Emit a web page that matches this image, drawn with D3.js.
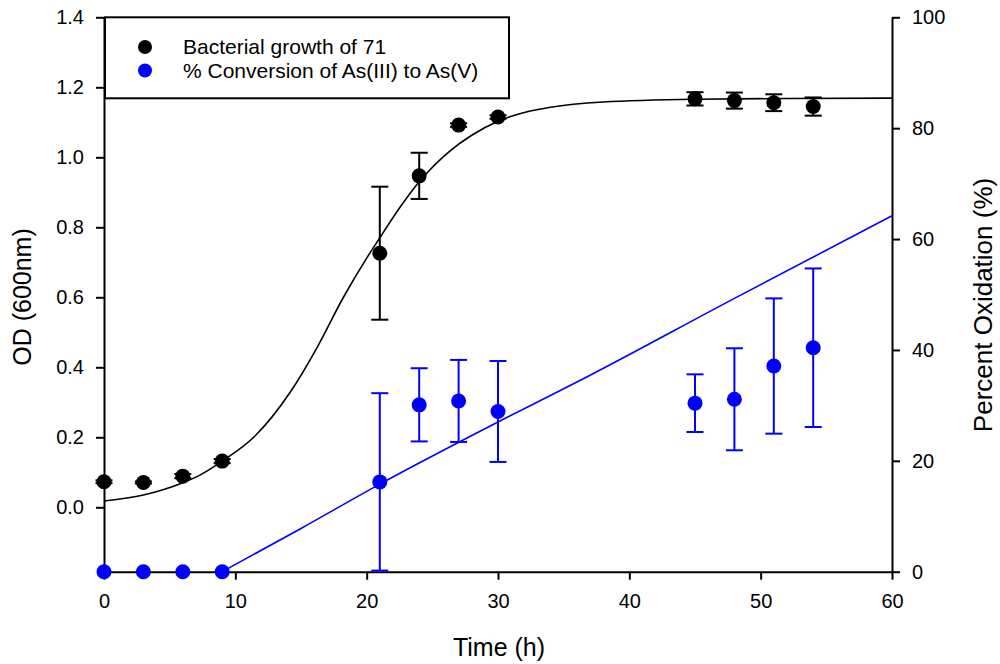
<!DOCTYPE html>
<html>
<head>
<meta charset="utf-8">
<script src="https://cdn.jsdelivr.net/npm/d3@7"></script>
<style>
  html, body { margin: 0; padding: 0; background: #fff; }
  svg { display: block; font-family: "Liberation Sans", Arial, sans-serif; }
</style>
</head>
<body>
<svg id="chart" width="1000" height="664"></svg>
<script>
// measured data
const growthTime = [0, 3, 6, 9, 21, 24, 27, 30, 45, 48, 51, 54];
const growthOD = [0.073, 0.071, 0.089, 0.132, 0.726, 0.947, 1.092, 1.115, 1.167, 1.162, 1.156, 1.145];
const growthErr = [0.004, 0.003, 0.006, 0.006, 0.19, 0.066, 0.005, 0.005, 0.019, 0.023, 0.024, 0.026];

const convTime = [0, 3, 6, 9, 21, 24, 27, 30, 45, 48, 51, 54];
const convPct = [0, 0, 0, 0, 16.2, 30.1, 30.8, 28.9, 30.4, 31.1, 37.1, 40.4];
const convErr = [0, 0, 0, 0, 16, 6.6, 7.4, 9.1, 5.2, 9.2, 12.2, 14.3];

// fitted curves
const growthFitTime = [0, 3, 6, 7.3, 9, 11.4, 14.2, 16.2, 18.2, 20, 21, 22.5, 24, 26.4, 28, 30, 32, 34, 38, 45, 52, 60];
const growthFitOD = [0.018, 0.035, 0.07, 0.092, 0.132, 0.2, 0.33, 0.455, 0.598, 0.712, 0.77, 0.855, 0.93, 1.02, 1.063, 1.103, 1.128, 1.143, 1.158, 1.166, 1.168, 1.169];
const convFitTime = [9, 15, 21, 30, 36.5, 48, 60];
const convFitPct = [0, 7.8, 15.8, 27.0, 34.8, 49.3, 64.2];

const xTicks = [0, 10, 20, 30, 40, 50, 60];
const leftTicks = [0, 0.2, 0.4, 0.6, 0.8, 1.0, 1.2, 1.4];
const rightTicks = [0, 20, 40, 60, 80, 100];
const legendLabels = ["Bacterial growth of 71", "% Conversion of As(III) to As(V)"];
const seriesColors = ["#000000", "#0000ff"];

const svg = d3.select("#chart");
const plotTop = 17.3, plotBottom = 571.7, plotLeft = 104, plotRight = 892;

const x = d3.scaleLinear().domain([0, 60]).range([plotLeft, plotRight]);
const yL = d3.scaleLinear().domain([-0.184, 1.4]).range([plotBottom, plotTop]);
const yR = d3.scaleLinear().domain([0, 100]).range([plotBottom, plotTop]);

// axes
const styleAxis = (g, size) => {
    g.selectAll(".domain").attr("stroke", "#000").attr("stroke-width", 2);
    g.selectAll(".tick line").attr("stroke", "#000").attr("stroke-width", 2);
    g.selectAll(".tick text").attr("fill", "#000").style("font-size", size + "px")
        .style("font-family", "'Liberation Sans', Arial, sans-serif");
};

svg.append("g")
    .attr("transform", `translate(0, ${plotBottom})`)
    .call(d3.axisBottom(x).tickValues(xTicks).tickSize(8).tickSizeOuter(0).tickPadding(14))
    .call(g => styleAxis(g, 20));

svg.append("g")
    .attr("transform", `translate(${plotLeft}, 0)`)
    .call(d3.axisLeft(yL).tickValues(leftTicks).tickFormat(d3.format(".1f")).tickSize(8).tickSizeOuter(0).tickPadding(12))
    .call(g => styleAxis(g, 20));

svg.append("g")
    .attr("transform", `translate(${plotRight}, 0)`)
    .call(d3.axisRight(yR).tickValues(rightTicks).tickSize(8).tickSizeOuter(0).tickPadding(12))
    .call(g => styleAxis(g, 20));

// axis titles
svg.append("text")
    .attr("x", 499).attr("y", 656)
    .attr("text-anchor", "middle")
    .style("font-size", "25px")
    .text("Time (h)");

svg.append("text")
    .attr("transform", "translate(31, 297) rotate(-90)")
    .attr("text-anchor", "middle")
    .style("font-size", "25px")
    .text("OD (600nm)");

svg.append("text")
    .attr("transform", "translate(992, 305) rotate(-90)")
    .attr("text-anchor", "middle")
    .style("font-size", "26px")
    .text("Percent Oxidation (%)");

// fitted curves
const growthLine = d3.line()
    .x((d, i) => x(growthFitTime[i]))
    .y(d => yL(d))
    .curve(d3.curveMonotoneX);
svg.append("path")
    .attr("d", growthLine(growthFitOD))
    .attr("fill", "none")
    .attr("stroke", seriesColors[0])
    .attr("stroke-width", 1.6);

const convLine = d3.line()
    .x((d, i) => x(convFitTime[i]))
    .y(d => yR(d))
    .curve(d3.curveMonotoneX);
svg.append("path")
    .attr("d", convLine(convFitPct))
    .attr("fill", "none")
    .attr("stroke", seriesColors[1])
    .attr("stroke-width", 1.6);

// error bars + dots
const cap = 8.5;
const drawSeries = (times, vals, errs, yScale, color) => {
    const pts = vals.map((v, i) => ({t: times[i], v: v, e: errs[i]}));
    const floor = yScale.domain()[0];
    const g = svg.append("g");
    const bars = g.selectAll(".err")
        .data(pts.filter(p => p.e > 0))
        .enter()
        .append("g");
    bars.append("line")
        .attr("x1", p => x(p.t)).attr("x2", p => x(p.t))
        .attr("y1", p => yScale(Math.max(floor, p.v - p.e)))
        .attr("y2", p => yScale(p.v + p.e))
        .attr("stroke", color).attr("stroke-width", 2);
    bars.append("line")
        .attr("x1", p => x(p.t) - cap).attr("x2", p => x(p.t) + cap)
        .attr("y1", p => yScale(p.v + p.e)).attr("y2", p => yScale(p.v + p.e))
        .attr("stroke", color).attr("stroke-width", 2);
    bars.append("line")
        .attr("x1", p => x(p.t) - cap).attr("x2", p => x(p.t) + cap)
        .attr("y1", p => yScale(Math.max(floor, p.v - p.e)))
        .attr("y2", p => yScale(Math.max(floor, p.v - p.e)))
        .attr("stroke", color).attr("stroke-width", 2);
    g.selectAll(".dot")
        .data(pts)
        .enter()
        .append("circle")
        .attr("cx", p => x(p.t))
        .attr("cy", p => yScale(p.v))
        .attr("r", 7.5)
        .attr("fill", color);
};
drawSeries(growthTime, growthOD, growthErr, yL, seriesColors[0]);
drawSeries(convTime, convPct, convErr, yR, seriesColors[1]);

// legend
const legend = svg.append("g");
legend.append("rect")
    .attr("x", plotLeft + 1).attr("y", plotTop)
    .attr("width", 404).attr("height", 81)
    .attr("fill", "#fff")
    .attr("stroke", "#000")
    .attr("stroke-width", 2);
legend.selectAll(".item")
    .data(legendLabels)
    .enter()
    .append("g")
    .attr("transform", (d, i) => `translate(145, ${47 + i * 23.5})`)
    .each(function (d, i) {
        const item = d3.select(this);
        item.append("circle").attr("r", 7).attr("fill", seriesColors[i]);
        item.append("text")
            .attr("x", 38).attr("y", 7)
            .style("font-size", "21px")
            .text(d);
    });
</script>
</body>
</html>
